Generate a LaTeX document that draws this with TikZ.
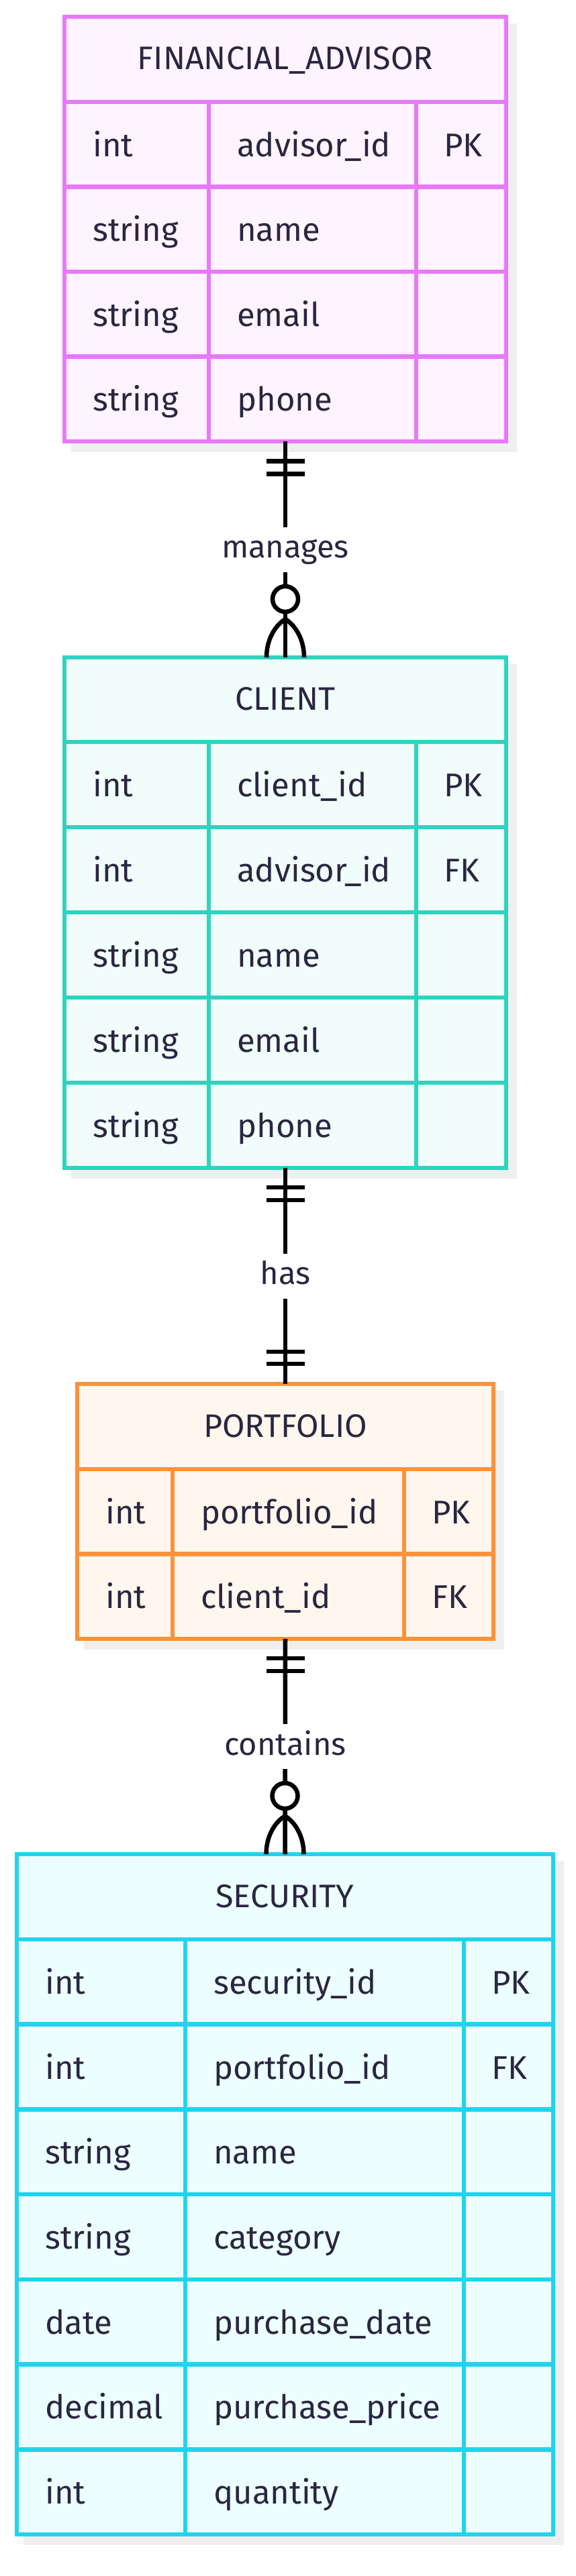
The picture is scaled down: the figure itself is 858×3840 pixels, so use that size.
\documentclass[tikz,border=0pt]{standalone}
\usepackage{fontspec}
\setmainfont{Fira Sans}
\usetikzlibrary{calc}

\definecolor{ink}{RGB}{42,38,64}
\definecolor{shadowgrey}{HTML}{EFEFEF}
\definecolor{advisorline}{HTML}{E879F9}
\definecolor{advisorfill}{HTML}{FDF4FF}
\definecolor{clientline}{HTML}{2DD4BF}
\definecolor{clientfill}{HTML}{F0FDFA}
\definecolor{portfolioline}{HTML}{FB923C}
\definecolor{portfoliofill}{HTML}{FFF7ED}
\definecolor{securityline}{HTML}{22D3EE}
\definecolor{securityfill}{HTML}{ECFEFF}

\begin{document}
\begin{tikzpicture}[x=1pt, y=-1pt,
    entity/.style={draw, line width=6.5pt, inner sep=0, outer sep=0},
    cell/.style={line width=6.5pt},
    entname/.style={anchor=base, inner sep=0, text=ink, font=\fontsize{48.5}{54}\selectfont},
    attr/.style={anchor=base west, inner sep=0, text=ink, font=\fontsize{49}{56}\selectfont},
    rel/.style={line width=6.5pt, black},
    rellabel/.style={fill=white, inner sep=0, text=ink, text height=34pt, text depth=9pt,
        minimum height=67pt, font=\fontsize{47}{54}\selectfont}]
    \useasboundingbox (0,0) rectangle (858,3840);
    \fill[white] (0,0) rectangle (858,3840);

    % FINANCIAL_ADVISOR
    \fill[shadowgrey] (106,35) rectangle (770,674);
    \node[entity, draw=advisorline, fill=advisorfill, minimum width=658pt, minimum height=633pt] (advisor) at (425,341.5) {};
    \draw[cell, advisorline] (96,152) -- (754,152) (311,152) -- (311,658) (620,152) -- (620,658);
    \foreach \y in {278.5,405,531.5}
        \draw[cell, advisorline] (96,\y) -- (754,\y);
    \node[entname] (advisor-title) at (425,104) {FINANCIAL\_ADVISOR};
    \foreach \ty/\fd [count=\i] in {int/advisor\_id, string/name, string/email, string/phone} {
        \node[attr] (advisor-type-\i) at (138,{152+(\i-0.5)*126.5+18}) {\ty};
        \node[attr] (advisor-field-\i) at (353,{152+(\i-0.5)*126.5+18}) {\fd};
    }
    \node[attr] (advisor-key-1) at (661,{152+0.5*126.5+18}) {PK};

    % CLIENT
    \fill[shadowgrey] (106,990) rectangle (770,1757);
    \node[entity, draw=clientline, fill=clientfill, minimum width=658pt, minimum height=761pt] (client) at (425,1360.5) {};
    \draw[cell, clientline] (96,1106) -- (754,1106) (311,1106) -- (311,1741) (620,1106) -- (620,1741);
    \foreach \y in {1233,1360,1487,1614}
        \draw[cell, clientline] (96,\y) -- (754,\y);
    \node[entname] (client-title) at (425,1058.5) {CLIENT};
    \foreach \ty/\fd [count=\i] in {int/client\_id, int/advisor\_id, string/name, string/email, string/phone} {
        \node[attr] (client-type-\i) at (138,{1106+(\i-0.5)*127+18}) {\ty};
        \node[attr] (client-field-\i) at (353,{1106+(\i-0.5)*127+18}) {\fd};
    }
    \node[attr] (client-key-1) at (661,{1106+0.5*127+18}) {PK};
    \node[attr] (client-key-2) at (661,{1106+1.5*127+18}) {FK};

    % PORTFOLIO
    \fill[shadowgrey] (125,2073) rectangle (751,2459);
    \node[entity, draw=portfolioline, fill=portfoliofill, minimum width=620pt, minimum height=380pt] (portfolio) at (425,2253) {};
    \draw[cell, portfolioline] (115,2190) -- (735,2190) (115,2316.5) -- (735,2316.5)
        (257,2190) -- (257,2443) (602,2190) -- (602,2443);
    \node[entname] (portfolio-title) at (425,2142) {PORTFOLIO};
    \foreach \ty/\fd/\ky [count=\i] in {int/portfolio\_id/PK, int/client\_id/FK} {
        \node[attr] (portfolio-type-\i) at (157,{2190+(\i-0.5)*126.5+18}) {\ty};
        \node[attr] (portfolio-field-\i) at (299,{2190+(\i-0.5)*126.5+18}) {\fd};
        \node[attr] (portfolio-key-\i) at (643,{2190+(\i-0.5)*126.5+18}) {\ky};
    }

    % SECURITY
    \fill[shadowgrey] (35,2774) rectangle (840,3794);
    \node[entity, draw=securityline, fill=securityfill, minimum width=799pt, minimum height=1014pt] (security) at (424.5,3271) {};
    \draw[cell, securityline] (25,2891) -- (824,2891) (276,2891) -- (276,3778) (691,2891) -- (691,3778);
    \foreach \i in {1,...,6}
        \draw[cell, securityline] (25,{2891+\i*126.71}) -- (824,{2891+\i*126.71});
    \node[entname] (security-title) at (424.5,2843) {SECURITY};
    \foreach \ty/\fd [count=\i] in {int/security\_id, int/portfolio\_id, string/name, string/category,
        date/purchase\_date, decimal/purchase\_price, int/quantity} {
        \node[attr] (security-type-\i) at (67,{2891+(\i-0.5)*126.71+18}) {\ty};
        \node[attr] (security-field-\i) at (318,{2891+(\i-0.5)*126.71+18}) {\fd};
    }
    \node[attr] (security-key-1) at (732,{2891+0.5*126.71+18}) {PK};
    \node[attr] (security-key-2) at (732,{2891+1.5*126.71+18}) {FK};

    % relationships
    \draw[rel] (advisor.south) -- node[rellabel] (manages) {manages} (client.north);
    \draw[rel] ($(advisor.south)+(-28.5,29.5)$) -- ++(57,0);
    \draw[rel] ($(advisor.south)+(-28.5,48.5)$) -- ++(57,0);
    \draw[rel, fill=white] ($(client.north)+(0,-87)$) circle[radius=19];
    \draw[rel] ($(client.north)+(0,-57)$) .. controls +(-15,9) and +(0,-27) .. ($(client.north)+(-28,0)$);
    \draw[rel] ($(client.north)+(0,-57)$) .. controls +(15,9) and +(0,-27) .. ($(client.north)+(28,0)$);

    \draw[rel] (client.south) -- node[rellabel] (has) {has} (portfolio.north);
    \draw[rel] ($(client.south)+(-28.5,29)$) -- ++(57,0);
    \draw[rel] ($(client.south)+(-28.5,48)$) -- ++(57,0);
    \draw[rel] ($(portfolio.north)+(-28.5,-30)$) -- ++(57,0);
    \draw[rel] ($(portfolio.north)+(-28.5,-48)$) -- ++(57,0);

    \draw[rel] (portfolio.south) -- node[rellabel] (contains) {contains} (security.north);
    \draw[rel] ($(portfolio.south)+(-28.5,29)$) -- ++(57,0);
    \draw[rel] ($(portfolio.south)+(-28.5,48)$) -- ++(57,0);
    \draw[rel, fill=white] ($(security.north)+(0,-87)$) circle[radius=19];
    \draw[rel] ($(security.north)+(0,-57)$) .. controls +(-15,9) and +(0,-27) .. ($(security.north)+(-28,0)$);
    \draw[rel] ($(security.north)+(0,-57)$) .. controls +(15,9) and +(0,-27) .. ($(security.north)+(28,0)$);
\end{tikzpicture}
\end{document}
